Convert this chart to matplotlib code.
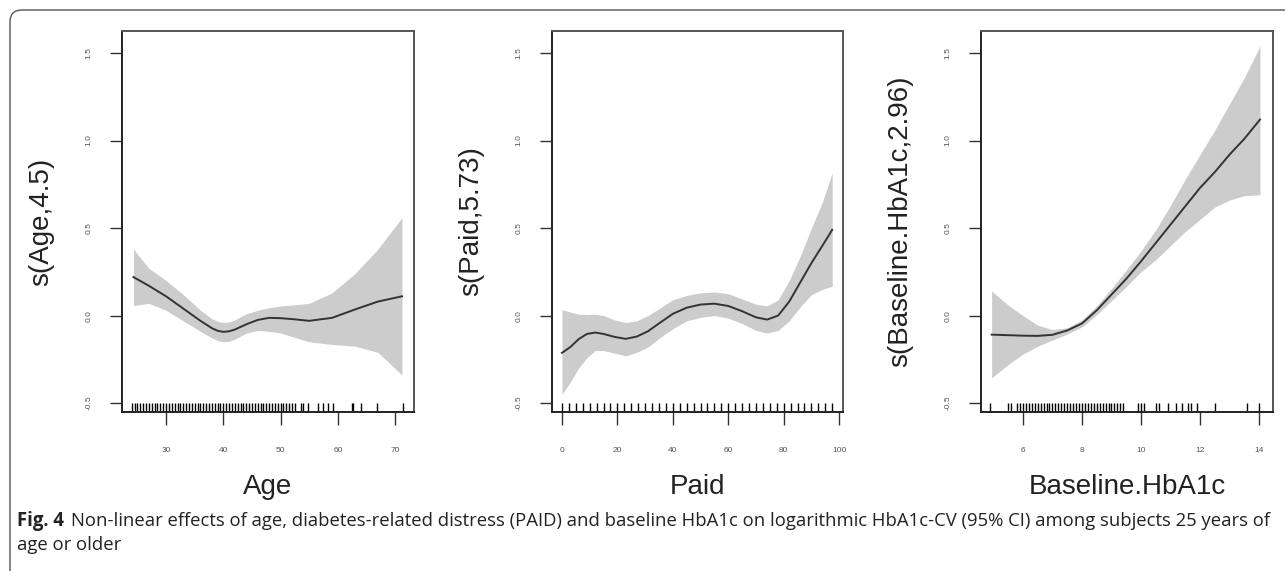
import matplotlib
matplotlib.use('Agg')
import matplotlib.pyplot as plt
from matplotlib.patches import FancyBboxPatch
from matplotlib.transforms import blended_transform_factory

# ---------- data ----------
age_x = [24.3, 27, 30, 33, 36, 38, 39, 40, 41, 42, 44, 46, 48, 50, 52, 55, 59,
         63, 67, 71.2]
age_fit = [0.22, 0.17, 0.11, 0.04, -0.03, -0.072, -0.087, -0.093, -0.09, -0.08,
           -0.05, -0.025, -0.013, -0.015, -0.02, -0.03, -0.013, 0.035, 0.08, 0.11]
age_hi = [0.38, 0.27, 0.20, 0.12, 0.03, -0.018, -0.033, -0.04, -0.036, -0.025,
          0.01, 0.03, 0.045, 0.055, 0.06, 0.07, 0.13, 0.24, 0.38, 0.56]
age_lo = [0.057, 0.07, 0.03, -0.03, -0.09, -0.128, -0.143, -0.15, -0.147, -0.135,
          -0.10, -0.085, -0.09, -0.10, -0.12, -0.15, -0.165, -0.175, -0.21, -0.34]
age_rug = [24, 24.5, 25, 25.5, 26, 26.5, 27, 27.5, 28, 28.5, 29, 29.5, 30, 30.5,
           31, 31.5, 32, 32.5, 33, 33.5, 34, 34.5, 35, 35.5, 36, 36.5, 37, 37.5,
           38, 38.5, 39, 39.5, 40, 40.5, 41, 41.5, 42, 42.5, 43, 43.5, 44, 44.5,
           45, 45.5, 46, 46.5, 47, 47.5, 48, 48.5, 49, 49.5, 50, 50.5, 51, 51.5,
           52, 52.5, 53.5, 54, 54.7, 56.6, 57.4, 58.3, 59.2, 62.5, 62.7, 64, 66.9, 71.3]

paid_x = [0, 3, 6, 9, 12, 15, 19, 23, 27, 31, 35, 40, 45, 50, 55, 60, 65, 70,
          74, 78, 82, 86, 90, 94, 97.5]
paid_fit = [-0.213, -0.18, -0.135, -0.105, -0.097, -0.105, -0.122, -0.133, -0.12,
            -0.09, -0.045, 0.01, 0.045, 0.063, 0.068, 0.055, 0.025, -0.01,
            -0.023, 0.0, 0.08, 0.19, 0.30, 0.40, 0.49]
paid_hi = [0.034, 0.02, 0.008, 0.005, 0.008, 0.0, -0.025, -0.04, -0.03, 0.0,
           0.04, 0.09, 0.115, 0.13, 0.135, 0.125, 0.095, 0.065, 0.055, 0.09,
           0.2, 0.34, 0.50, 0.65, 0.815]
paid_lo = [-0.45, -0.38, -0.30, -0.24, -0.20, -0.20, -0.215, -0.23, -0.21, -0.18,
           -0.13, -0.075, -0.03, -0.01, 0.0, -0.015, -0.045, -0.085, -0.10,
           -0.085, -0.03, 0.05, 0.12, 0.15, 0.168]
paid_rug = [0, 2.5, 5, 7.5, 10, 12.5, 15, 17.5, 20, 22.5, 25, 27.5, 30, 32.5, 35,
            37.5, 40, 42.5, 45, 47.5, 50, 52.5, 55, 57.5, 60, 62.5, 65, 67.5, 70,
            72.5, 75, 77.5, 80, 82.5, 85, 87.5, 90, 92.5, 95, 97.5]

hba_x = [4.94, 5.5, 6, 6.5, 7, 7.5, 8, 8.5, 9, 9.5, 10, 10.5, 11, 11.5, 12,
         12.5, 13, 13.5, 14.03]
hba_fit = [-0.109, -0.112, -0.115, -0.116, -0.11, -0.085, -0.045, 0.03, 0.12,
           0.21, 0.31, 0.415, 0.52, 0.625, 0.73, 0.82, 0.92, 1.01, 1.12]
hba_hi = [0.14, 0.06, 0.0, -0.055, -0.08, -0.07, -0.025, 0.055, 0.155, 0.26,
          0.37, 0.49, 0.63, 0.78, 0.92, 1.06, 1.21, 1.36, 1.54]
hba_lo = [-0.356, -0.28, -0.22, -0.175, -0.14, -0.105, -0.065, 0.005, 0.085,
          0.165, 0.25, 0.32, 0.40, 0.48, 0.55, 0.62, 0.66, 0.685, 0.69]
hba_rug = [4.9, 5.5, 5.6, 5.8, 5.9, 6.0, 6.1, 6.2, 6.3, 6.4, 6.5, 6.6, 6.7, 6.8,
           6.9, 7.0, 7.1, 7.2, 7.3, 7.4, 7.5, 7.6, 7.7, 7.8, 7.9, 8.0, 8.1, 8.2,
           8.3, 8.4, 8.5, 8.6, 8.7, 8.8, 8.9, 9.0, 9.1, 9.2, 9.3, 9.4, 9.9, 10.0,
           10.1, 10.5, 10.6, 10.9, 11.2, 11.4, 11.6, 11.7, 11.9, 12.5, 13.6, 14.0]

panels = [
    (age_x, age_fit, age_hi, age_lo, age_rug, "Age", "s(Age,4.5)",
     (22.3, 73.3), [30, 40, 50, 60, 70]),
    (paid_x, paid_fit, paid_hi, paid_lo, paid_rug, "Paid", "s(Paid,5.73)",
     (-3.6, 101.4), [0, 20, 40, 60, 80, 100]),
    (hba_x, hba_fit, hba_hi, hba_lo, hba_rug, "Baseline.HbA1c", "s(Baseline.HbA1c,2.96)",
     (4.58, 14.47), [6, 8, 10, 12, 14]),
]
y_ticks = [-0.5, 0.0, 0.5, 1.0, 1.5]
caption_bold = "Fig. 4"
caption_1 = ("Non-linear effects of age, diabetes-related distress (PAID) and baseline HbA1c "
             "on logarithmic HbA1c-CV (95% CI) among subjects 25 years of")
caption_2 = "age or older"

plt.rcParams['font.family'] = ['Liberation Sans', 'DejaVu Sans']

W, H = 1285, 571
fig = plt.figure(figsize=(W / 100, H / 100), dpi=100)

# rounded frame around the figure
frame = FancyBboxPatch((10, -12), 1300, H - 10 + 12,
                       boxstyle="round,pad=0,rounding_size=12",
                       transform=None, fill=False, edgecolor='#555555', lw=1.0)
fig.patches.append(frame)

lefts = [122, 552, 981]
widths = [292, 291, 292]
top, bottom = 31, 412

for (xs, fit, hi, lo, rug, xlab, ylab, xlim, xt), l, w in zip(panels, lefts, widths):
    ax = fig.add_axes([l / W, 1 - bottom / H, w / W, (bottom - top) / H])
    ax.fill_between(xs, lo, hi, color='#cccccc', lw=0)
    ax.plot(xs, fit, color='#333333', lw=1.4)
    tr = blended_transform_factory(ax.transData, ax.transAxes)
    ax.vlines(rug, 0, 0.024, transform=tr, color='black', lw=1.0)
    ax.set_xlim(*xlim)
    ax.set_ylim(-0.551, 1.626)
    ax.set_xticks(xt)
    ax.set_xticklabels([str(v) for v in xt])
    ax.set_yticks(y_ticks)
    ax.set_yticklabels([f"{v:.1f}" for v in y_ticks], rotation=90, va='center')
    ax.tick_params(axis='x', length=9, width=1.0, pad=16, labelsize=6,
                   colors='#333333', labelcolor='#555555')
    ax.tick_params(axis='y', length=9, width=1.0, pad=12, labelsize=6,
                   colors='#333333', labelcolor='#555555')
    for s in ax.spines.values():
        s.set_color('#555555')
        s.set_linewidth(1.4)
    ax.spines['left'].set_color('#222222')
    ax.spines['bottom'].set_color('#222222')
    ax.set_xlabel(xlab, fontsize=20, color='#222222')
    ax.set_ylabel(ylab, fontsize=20, color='#222222')
    ax.xaxis.set_label_coords(0.5, -0.163)
    ax.yaxis.set_label_coords(-0.233, 0.5)

# caption
cap_font = ['Open Sans', 'DejaVu Sans']
fig.canvas.draw()
rend = fig.canvas.get_renderer()
t_bold = fig.text(17 / W, 1 - 521 / H, caption_bold, fontsize=11, fontweight='bold',
                  family=cap_font, va='center', ha='left', color='#222222')
t1 = fig.text(0, 1 - 521 / H, caption_1, fontsize=11,
              family=cap_font, va='center', ha='left', color='#222222')
# fit the first caption line so it ends near x = 1274
gap = 7
wb = t_bold.get_window_extent(renderer=rend).width
w1 = t1.get_window_extent(renderer=rend).width
size = 11 * (1274 - 17 - gap) / (wb + w1)
t_bold.set_fontsize(size)
t1.set_fontsize(size)
bb = t_bold.get_window_extent(renderer=rend)
t1.set_x((bb.x1 + gap) / W)
fig.text(17 / W, 1 - 545 / H, caption_2, fontsize=size,
         family=cap_font, va='center', ha='left', color='#222222')

fig.savefig('out.png', dpi=100)
